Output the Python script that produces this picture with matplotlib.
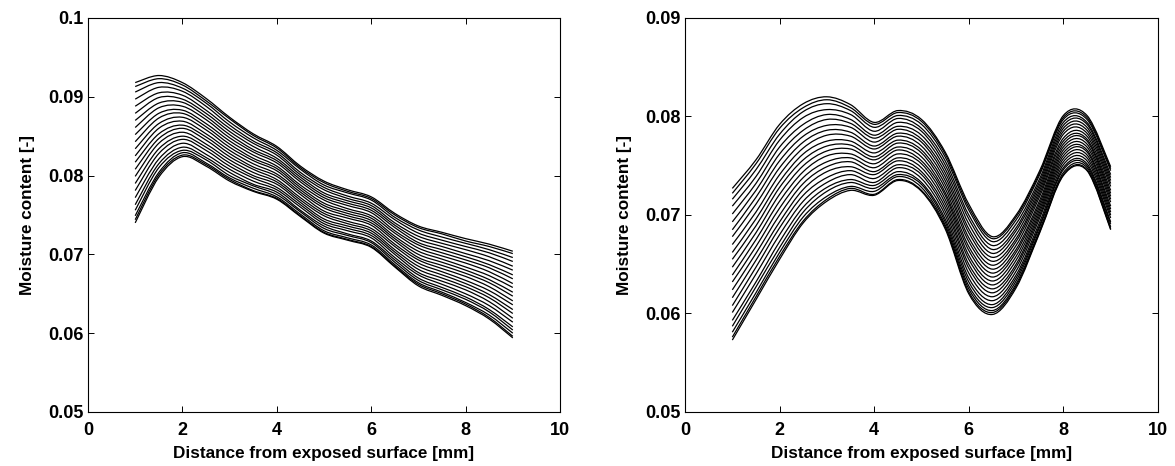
import numpy as np
import matplotlib
matplotlib.use("Agg")
import matplotlib.pyplot as plt
from matplotlib.path import Path
from matplotlib.patches import PathPatch

# positions along the specimen [mm]
x_pos = [1, 1.5, 2, 2.5, 3, 3.5, 4, 4.5, 5, 5.5, 6, 6.5, 7, 7.5, 8, 8.5, 9]

# moisture profiles, values in 1e-4 [-], one row per curve (bottom -> top)
left_profiles = [
    [740, 798, 824, 812, 793, 780, 770, 748, 727, 718, 709, 684, 660, 648, 635, 618, 594],
    [744, 801, 826, 814, 795, 781, 771, 749, 728, 719, 710, 685, 662, 650, 637, 620, 596],
    [749, 804, 829, 816, 797, 784, 773, 751, 730, 721, 712, 687, 664, 652, 639, 623, 600],
    [756, 810, 832, 820, 800, 787, 776, 754, 733, 724, 715, 690, 667, 655, 643, 627, 604],
    [763, 815, 836, 823, 804, 789, 779, 756, 736, 726, 717, 693, 670, 658, 646, 630, 608],
    [772, 821, 841, 827, 808, 793, 782, 760, 739, 730, 721, 696, 674, 662, 650, 635, 614],
    [781, 828, 846, 832, 812, 797, 785, 763, 742, 733, 724, 700, 677, 666, 655, 640, 619],
    [790, 834, 850, 836, 816, 800, 789, 766, 745, 736, 727, 703, 681, 670, 659, 645, 625],
    [799, 841, 855, 840, 820, 804, 792, 769, 749, 739, 730, 706, 685, 674, 663, 649, 630],
    [808, 847, 860, 845, 824, 808, 795, 772, 752, 742, 733, 710, 689, 678, 667, 654, 636],
    [817, 853, 864, 849, 828, 811, 799, 776, 755, 746, 737, 713, 693, 682, 672, 659, 641],
    [825, 860, 869, 853, 832, 815, 802, 779, 759, 749, 740, 717, 696, 686, 676, 664, 647],
    [834, 866, 874, 858, 836, 819, 806, 782, 762, 752, 743, 720, 700, 690, 680, 668, 652],
    [843, 873, 879, 862, 840, 822, 809, 785, 765, 755, 746, 723, 704, 694, 684, 673, 658],
    [852, 879, 883, 866, 844, 826, 812, 788, 769, 758, 749, 727, 708, 698, 689, 678, 663],
    [861, 886, 888, 871, 848, 830, 816, 792, 772, 762, 753, 730, 712, 702, 693, 683, 669],
    [870, 892, 893, 875, 852, 833, 819, 795, 775, 765, 756, 734, 715, 706, 697, 687, 674],
    [879, 899, 897, 879, 856, 837, 822, 798, 778, 768, 759, 737, 719, 710, 701, 692, 680],
    [888, 905, 902, 883, 860, 841, 826, 801, 782, 771, 762, 740, 723, 714, 706, 697, 685],
    [897, 912, 907, 888, 864, 844, 829, 804, 785, 774, 765, 744, 727, 718, 710, 702, 691],
    [906, 918, 911, 892, 868, 848, 832, 808, 788, 778, 769, 747, 731, 722, 714, 706, 696],
    [913, 923, 915, 895, 872, 851, 835, 810, 791, 780, 771, 750, 734, 726, 717, 710, 701],
    [918, 927, 918, 898, 874, 853, 837, 812, 793, 782, 773, 752, 736, 728, 720, 713, 704],
]

right_profiles = [
    [573, 614, 655, 692, 714, 725, 720, 735, 724, 686, 620, 599, 626, 682, 740, 745, 685],
    [576, 617, 658, 694, 716, 727, 721, 736, 725, 688, 622, 601, 628, 683, 741, 746, 686],
    [581, 621, 662, 698, 719, 729, 724, 739, 728, 690, 625, 603, 630, 685, 743, 748, 688],
    [587, 627, 667, 703, 724, 733, 727, 741, 731, 693, 628, 606, 633, 688, 746, 750, 691],
    [593, 632, 673, 708, 728, 736, 730, 744, 733, 696, 632, 609, 636, 690, 748, 752, 693],
    [601, 640, 680, 714, 733, 741, 733, 748, 737, 700, 636, 613, 639, 693, 751, 755, 697],
    [608, 647, 687, 720, 738, 745, 737, 751, 741, 704, 641, 617, 643, 697, 754, 758, 700],
    [616, 654, 693, 726, 744, 749, 741, 755, 744, 708, 646, 621, 647, 700, 757, 761, 703],
    [624, 661, 700, 732, 749, 754, 744, 758, 748, 712, 650, 625, 650, 703, 760, 764, 706],
    [632, 668, 707, 738, 754, 758, 748, 762, 752, 716, 655, 629, 654, 706, 763, 766, 709],
    [639, 675, 714, 744, 760, 762, 752, 766, 755, 720, 659, 633, 658, 709, 766, 769, 713],
    [647, 682, 721, 750, 765, 767, 756, 769, 759, 723, 664, 637, 662, 712, 769, 772, 716],
    [655, 689, 728, 756, 770, 771, 759, 773, 763, 727, 668, 641, 665, 715, 772, 775, 719],
    [662, 696, 734, 762, 775, 775, 763, 776, 766, 731, 673, 645, 669, 719, 775, 777, 722],
    [670, 703, 741, 768, 781, 780, 767, 780, 770, 735, 677, 649, 673, 722, 778, 780, 725],
    [678, 711, 748, 774, 786, 784, 770, 783, 774, 739, 682, 653, 676, 725, 782, 783, 729],
    [685, 718, 755, 780, 791, 789, 774, 787, 777, 743, 686, 657, 680, 728, 785, 786, 732],
    [693, 725, 762, 786, 797, 793, 778, 790, 781, 747, 691, 661, 684, 731, 788, 789, 735],
    [701, 732, 769, 792, 802, 797, 781, 794, 785, 751, 696, 665, 687, 734, 791, 792, 738],
    [709, 739, 776, 799, 807, 802, 785, 798, 788, 755, 700, 669, 691, 737, 794, 794, 741],
    [716, 746, 782, 805, 813, 806, 789, 801, 792, 759, 705, 673, 695, 741, 797, 797, 745],
    [722, 752, 788, 809, 817, 809, 792, 804, 795, 762, 708, 676, 698, 743, 799, 799, 747],
    [727, 756, 792, 813, 820, 812, 794, 806, 797, 764, 711, 678, 700, 745, 801, 801, 749],
]

x_ticks = [0, 2, 4, 6, 8, 10]
left_yticks = [0.05, 0.06, 0.07, 0.08, 0.09, 0.1]
left_ylabels = ["0.05", "0.06", "0.07", "0.08", "0.09", "0.1"]
right_yticks = [0.05, 0.06, 0.07, 0.08, 0.09]
right_ylabels = ["0.05", "0.06", "0.07", "0.08", "0.09"]


def smooth_path(xs, ys):
    # draw the measured points as a smooth curve (Catmull-Rom as cubic Bezier)
    pts = np.column_stack([xs, ys])
    ext = np.vstack([pts[0], pts, pts[-1]])
    verts = [pts[0]]
    codes = [Path.MOVETO]
    for i in range(1, len(ext) - 2):
        p0, p1, p2, p3 = ext[i - 1], ext[i], ext[i + 1], ext[i + 2]
        verts += [p1 + (p2 - p0) / 6, p2 - (p3 - p1) / 6, p2]
        codes += [Path.CURVE4] * 3
    return Path(verts, codes)


def draw_panel(ax, profiles, ylim, yticks, ylabels):
    for row in profiles:
        ys = np.array(row) / 10000
        ax.add_patch(PathPatch(smooth_path(x_pos, ys), fill=False, ec="black", lw=0.9))
    ax.set_xlim(0, 10)
    ax.set_ylim(*ylim)
    ax.set_xticks(x_ticks)
    ax.set_xticklabels([str(t) for t in x_ticks])
    ax.set_yticks(yticks)
    ax.set_yticklabels(ylabels)
    ax.tick_params(direction="in", top=True, right=True, length=4, width=0.7, labelsize=13)
    ax.tick_params(axis="x", pad=7)
    ax.tick_params(axis="y", pad=3)
    for lab in ax.get_xticklabels() + ax.get_yticklabels():
        lab.set_fontweight("bold")
    for sp in ax.spines.values():
        sp.set_linewidth(0.8)
    ax.set_xlabel("Distance from exposed surface [mm]", fontsize=12.3, fontweight="bold", labelpad=5)
    ax.set_ylabel("Moisture content [-]", fontsize=12.3, fontweight="bold", labelpad=10)


plt.rcParams["font.family"] = ["Liberation Sans", "DejaVu Sans"]

fig = plt.figure(figsize=(11.75, 4.66), dpi=100)
ax1 = fig.add_axes([0.0749, 0.1159, 0.4017, 0.8455])
ax2 = fig.add_axes([0.5830, 0.1159, 0.4025, 0.8455])

draw_panel(ax1, left_profiles, (0.05, 0.1), left_yticks, left_ylabels)
draw_panel(ax2, right_profiles, (0.05, 0.09), right_yticks, right_ylabels)

fig.savefig("out.png", dpi=100)
